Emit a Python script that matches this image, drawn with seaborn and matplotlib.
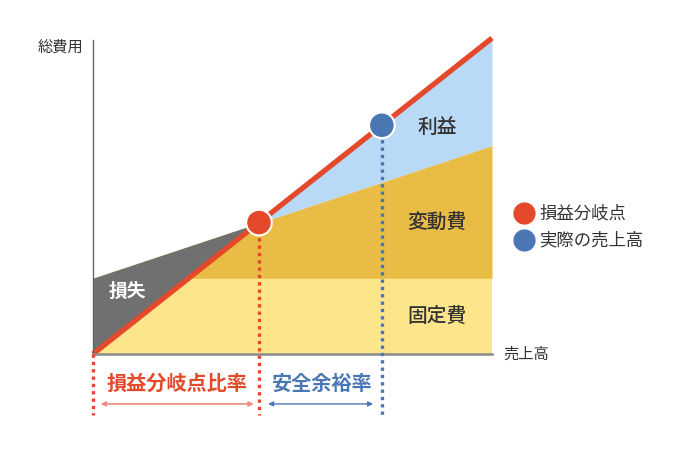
import seaborn as sns
import pandas as pd
import numpy as np
import matplotlib.pyplot as plt
from matplotlib.lines import Line2D

# 売上高と費用（グラフ上の目盛り、0〜100）
sales = [0, 100]
revenue = [0, 100]
fixed_cost = [24, 24]
total_cost = [24, 66]
break_even = 41.6
actual_sales = 72.4

labels = {"loss": "損失", "profit": "利益", "variable": "変動費", "fixed": "固定費"}
legend_labels = ["損益分岐点", "実際の売上高"]

RED = "#E4492B"
BLUE = "#4A77B4"

sns.set_style("white")
plt.rcParams["font.family"] = ["Noto Sans CJK JP", "DejaVu Sans"]

df = pd.DataFrame({"sales": sales, "revenue": revenue,
                   "fixed": fixed_cost, "total": total_cost})

fig = plt.figure(figsize=(6.88, 4.59), dpi=100)
ax = fig.add_axes([93 / 688, 1 - 354 / 459, 399 / 688, 314 / 459])

x = np.array(sales, dtype=float)
rev = np.array(revenue, dtype=float)
fix = np.array(fixed_cost, dtype=float)
tot = np.array(total_cost, dtype=float)

# 塗り分け
ax.fill_between(x, 0, fix, color="#FDE58C", lw=0)
ax.fill_between(x, fix, tot, color="#E9BC46", lw=0)
ax.fill_between(x, tot, rev, where=rev >= tot, interpolate=True, color="#B8DAF7", lw=0)
ax.fill_between(x, rev, tot, where=rev <= tot, interpolate=True, color="#707070", lw=0)

# 売上高線
sns.lineplot(data=df, x="sales", y="revenue", color=RED, lw=3.8, ax=ax,
             solid_capstyle="butt")
ax.lines[-1].set_clip_on(False)

# 点線
for xv, c in [(0, RED), (break_even, RED), (actual_sales, BLUE)]:
    ax.plot([xv, xv], [np.interp(xv, x, rev), -19.3], color=c, lw=2.4,
            ls=(0, (1, 1.2)), clip_on=False, zorder=3)

# 点
pts = pd.DataFrame({"x": [break_even, actual_sales], "y": [break_even, actual_sales],
                    "kind": legend_labels})
sns.scatterplot(data=pts, x="x", y="y", hue="kind", palette=[RED, BLUE], s=340,
                edgecolor="white", linewidth=1.5, ax=ax, legend=False, zorder=5,
                clip_on=False)

# 面のラベル
ax.text(8.5, 19.9, labels["loss"], color="white", fontsize=13.5, fontweight="bold",
        ha="center", va="center")
for key, yv in [("profit", 71.5), ("variable", 41.5), ("fixed", 11.7)]:
    ax.text(86.2, yv, labels[key], color="#333333", fontsize=14.2, fontweight="medium",
            ha="center", va="center")

# 矢印と比率ラベル
ax.annotate("", xy=(1.9, -15.8), xytext=(break_even - 1.3, -15.8),
            arrowprops=dict(arrowstyle="<|-|>", color="#EE8C7D", lw=1.2,
                            mutation_scale=7, shrinkA=0, shrinkB=0),
            annotation_clip=False)
ax.annotate("", xy=(break_even + 2.3, -15.8), xytext=(actual_sales - 2.2, -15.8),
            arrowprops=dict(arrowstyle="<|-|>", color=BLUE, lw=1.0,
                            mutation_scale=7, shrinkA=0, shrinkB=0),
            annotation_clip=False)
ax.text(21, -9.2, "損益分岐点比率", color=RED, fontsize=14.5, fontweight="bold",
        ha="center", va="center")
ax.text(57.4, -9.2, "安全余裕率", color=BLUE, fontsize=14.5, fontweight="bold",
        ha="center", va="center")

ax.set_xlim(0, 100)
ax.set_ylim(0, 99.4)
ax.set_xticks([])
ax.set_yticks([])
ax.set_xlabel("")
ax.set_ylabel("")
sns.despine(ax=ax)
ax.spines["left"].set_color("#666666")
ax.spines["left"].set_linewidth(1.0)
ax.spines["bottom"].set_color("#8A8A8A")
ax.spines["bottom"].set_linewidth(1.8)

ax.text(102.8, 0, "売上高", color="#333333", fontsize=11, ha="left", va="center")
fig.text(61 / 688, 1 - 47 / 459, "総費用", color="#333333", fontsize=11,
         ha="center", va="center")

handles = [Line2D([], [], marker="o", ls="", color=c, markersize=15) for c in [RED, BLUE]]
fig.legend(handles, legend_labels, loc="upper left",
           bbox_to_anchor=(507 / 688, 1 - 198 / 459), frameon=False,
           fontsize=12.5, handletextpad=0.25, labelspacing=0.5, labelcolor="#333333",
           handlelength=1.2, borderaxespad=0)

fig.savefig("out.png", dpi=100)
